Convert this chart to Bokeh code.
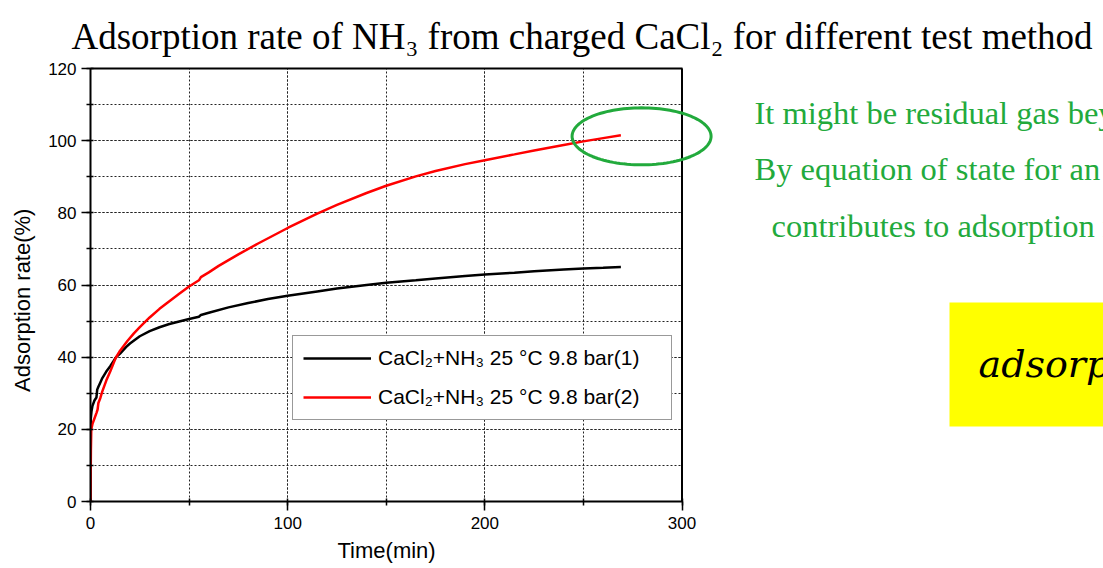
import numpy as np
from bokeh.plotting import figure
from bokeh.models import (Label, Legend, LegendItem, PolyAnnotation, BoxAnnotation, Span,
                          SingleIntervalTicker, FixedTicker, LinearAxis, Grid, Title)
from bokeh.embed import file_html
from bokeh.resources import INLINE

# ---------------- data ----------------
t_run1 = [0, 0.15, 0.5, 1, 2, 3, 3.4, 4, 5, 6, 8, 10, 12, 13, 15, 18, 20, 25, 30, 35, 40,
          45, 50, 55, 56, 60, 70, 80, 90, 100, 115, 125, 140, 150, 165, 175, 190, 200, 215,
          225, 240, 250, 260, 269]
rate_run1 = [0, 23, 25, 26.5, 28, 28.8, 31, 31.8, 33, 34.2, 36, 37.5, 39.2, 40, 41, 42.8,
             43.8, 45.8, 47.2, 48.3, 49.2, 49.9, 50.6, 51.2, 51.7, 52.3, 53.8, 55, 56.1, 57,
             58.2, 59, 60, 60.6, 61.3, 61.8, 62.5, 62.9, 63.4, 63.8, 64.3, 64.6, 64.8, 65]

t_run2 = [0, 0.2, 0.4, 1, 2, 3, 3.6, 4, 5, 6, 8, 10, 12.7, 15, 18.6, 22, 25, 30, 35, 40, 45,
          50, 55, 56, 60, 65, 70, 75, 85, 100, 115, 125, 140, 150, 165, 175, 190, 200, 215,
          225, 240, 250, 260, 269]
rate_run2 = [0, 14, 20, 21.5, 23, 24.5, 25.5, 27.3, 28.7, 30.5, 33.5, 36, 39.7, 41.8, 44.4,
             46.6, 48.3, 51, 53.4, 55.5, 57.6, 59.6, 61.3, 62.2, 63.5, 65.3, 66.9, 68.5, 71.5,
             75.8, 79.8, 82.2, 85.5, 87.5, 90.1, 91.6, 93.5, 94.6, 96.2, 97.3, 98.8, 99.8,
             100.7, 101.5]

labels = ["CaCl\u2082+NH\u2083 25 \u00b0C 9.8 bar(1)", "CaCl\u2082+NH\u2083 25 \u00b0C 9.8 bar(2)"]
colors = ["#000000", "#FF0000"]

title_text = "Adsorption rate of NH\u2083 from charged CaCl\u2082 for different test method"
x_label = "Time(min)"
y_label = "Adsorption rate(%)"
note_lines = ["It might be residual gas beyond",
              "By equation of state for an ideal gas",
              "contributes to adsorption rate"]
formula_text = "adsorption rate"

# ---------------- geometry ----------------
W, H = 1103, 568
FL, FT, FB = 90, 68, 501            # frame left/top/bottom (pixels)
PX300 = 681.5                       # pixel of x = 300
XMAX, YMAX = 300, 120
x_end = (W - FL) * XMAX / (PX300 - FL)   # frame extends to the right window edge

def dx(px):
    return (px - FL) * XMAX / (PX300 - FL)

def dy(py):
    return (FB - py) * YMAX / (FB - FT)

p = figure(width=W, height=H, x_range=(0, x_end), y_range=(0, YMAX),
           output_backend="svg", toolbar_location=None,
           min_border_left=FL, min_border_right=0, min_border_top=FT,
           min_border_bottom=H - FB)
p.background_fill_color = "white"
p.border_fill_color = "white"
p.outline_line_color = None

p.title.text = title_text
p.title.text_font = "Liberation Serif"
p.title.text_font_size = "37px"
p.title.text_font_style = "normal"
p.title.text_color = "black"
p.title.align = "left"
p.title.offset = -19
p.title.standoff = 24

for ax, ticker in ((p.xaxis[0], SingleIntervalTicker(interval=100, num_minor_ticks=2)),
                   (p.yaxis[0], SingleIntervalTicker(interval=20, num_minor_ticks=2))):
    ax.ticker = ticker
    ax.axis_line_width = 2
    ax.axis_line_color = "black"
    ax.major_tick_line_width = 1.5
    ax.minor_tick_line_width = 1.5
    ax.major_tick_line_color = "black"
    ax.minor_tick_line_color = "black"
    ax.major_tick_out = 9
    ax.major_tick_in = 0
    ax.minor_tick_out = 4
    ax.minor_tick_in = 3
    ax.major_label_text_font = "Liberation Sans"
    ax.major_label_text_font_size = "17px"
    ax.major_label_text_color = "black"
    ax.major_label_standoff = 5
    ax.axis_label_text_font = "Liberation Sans"
    ax.axis_label_text_font_size = "22px"
    ax.axis_label_text_font_style = "normal"
    ax.axis_label_text_color = "black"

p.xaxis.bounds = (0, XMAX)
p.xaxis.major_label_standoff = 6
p.yaxis.axis_label = y_label + "\u00a0" * 5
p.yaxis.axis_label_standoff = 10

# x-axis title, centred under the 0..300 span
p.add_layout(Title(text=x_label, align="left", offset=247, text_font="Liberation Sans",
                   text_font_size="22px", text_font_style="normal", text_color="black",
                   standoff=8), "below")

# top edge of the plot box
top_axis = LinearAxis(ticker=FixedTicker(ticks=[]), bounds=(0, XMAX), axis_line_width=2,
                      axis_line_color="black", major_tick_out=0, minor_tick_out=0,
                      major_label_standoff=0)
p.add_layout(top_axis, "above")
# right edge of the plot box
p.add_layout(Span(location=XMAX, dimension="height", line_color="black", line_width=2))

# grid
for g in (p.xgrid[0], p.ygrid[0]):
    g.grid_line_color = "#222222"
    g.grid_line_dash = "2 2"
    g.grid_line_width = 1
    g.minor_grid_line_color = "#222222"
    g.minor_grid_line_dash = "2 2"
    g.minor_grid_line_width = 1
p.xgrid[0].bounds = (0, XMAX)
if "cross_bounds" in Grid.properties():
    p.ygrid[0].cross_bounds = (0, XMAX)
else:
    p.ygrid[0].visible = False
    yy = list(range(10, YMAX, 10))
    p.segment(x0=[0] * len(yy), x1=[XMAX] * len(yy), y0=yy, y1=yy, line_color="#222222",
              line_dash="2 2", line_width=1)

r1 = p.line(t_run1, rate_run1, line_color=colors[0], line_width=2.5)
r2 = p.line(t_run2, rate_run2, line_color=colors[1], line_width=2.5)

legend = Legend(items=[LegendItem(label=labels[0], renderers=[r1]),
                       LegendItem(label=labels[1], renderers=[r2])],
                location=(292 - FL, FB - 420))
legend.label_text_font = "Liberation Sans"
legend.label_text_font_size = "21px"
legend.label_text_color = "black"
legend.glyph_width = 68
legend.glyph_height = 22
legend.label_height = 22
legend.label_width = 283
legend.label_standoff = 7
legend.spacing = 15
legend.padding = 10
legend.margin = 0
legend.border_line_color = "#333333"
legend.border_line_width = 1.5
legend.background_fill_color = "white"
legend.background_fill_alpha = 1
p.add_layout(legend, "center")

# green notes
green = "#22AA3C"
note_pos = [(754, 112), (754, 168), (771, 225)]
for txt, (px, py) in zip(note_lines, note_pos):
    p.add_layout(Label(x=dx(px), y=dy(py), text=txt, text_font="Liberation Serif",
                       text_font_size="32.5px", text_color=green, text_baseline="alphabetic"))

# ellipse marking the end of run 2
cx, cy = t_run2[-1] + 10.5, rate_run2[-1] - 0.3
rx, ry = 69.5 * XMAX / (PX300 - FL), 28.5 * YMAX / (FB - FT)
th = np.linspace(0, 2 * np.pi, 121)
p.add_layout(PolyAnnotation(xs=list(cx + rx * np.cos(th)), ys=list(cy + ry * np.sin(th)),
                            fill_alpha=0, line_color=green, line_alpha=1, line_width=3))

# yellow formula box
p.add_layout(BoxAnnotation(left=dx(949), right=x_end + 10, top=dy(302), bottom=dy(426),
                           fill_color="#FFFF00", fill_alpha=1, line_color=None))
p.add_layout(Label(x=dx(978), y=dy(363), text=formula_text, text_font="DejaVu Serif",
                   text_font_style="italic", text_font_size="38px", text_color="black",
                   text_baseline="alphabetic"))

open("out.html", "w").write(file_html(p, INLINE))
